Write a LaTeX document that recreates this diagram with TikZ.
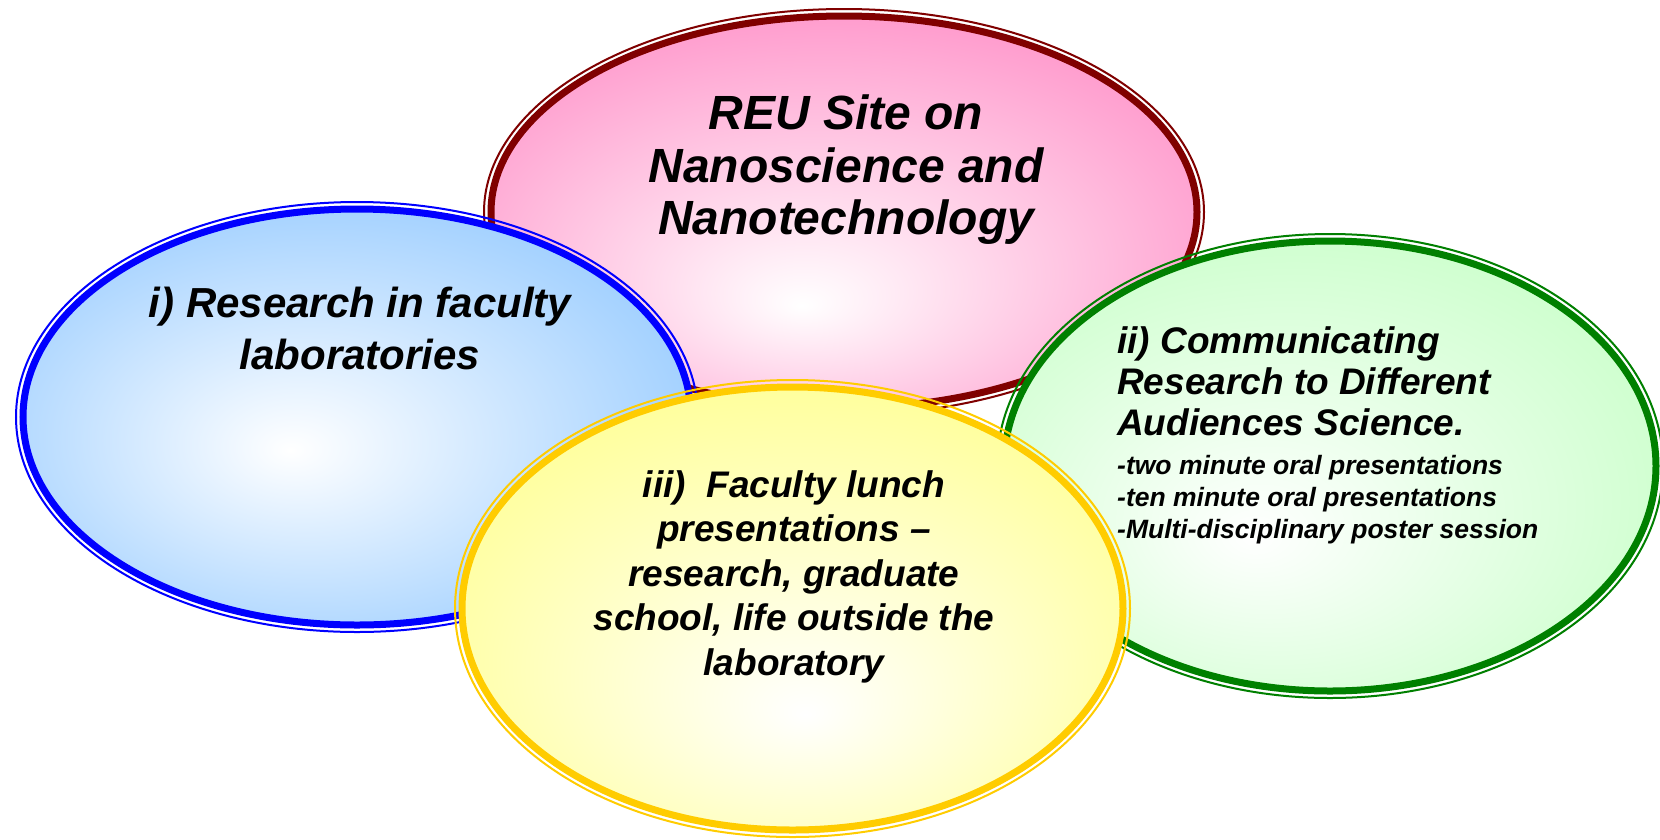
\documentclass[tikz,border=0pt]{standalone}
\usepackage{fontspec}
\setmainfont{Liberation Sans}

% fill and outline colours of the four bubbles
\definecolor{pinkfill}{RGB}{255,153,204}
\definecolor{pinkline}{RGB}{128,0,0}
\definecolor{bluefill}{RGB}{153,204,255}
\definecolor{blueline}{RGB}{0,0,255}
\definecolor{greenfill}{RGB}{204,255,204}
\definecolor{greenline}{RGB}{0,128,0}
\definecolor{yellowfill}{RGB}{255,255,153}
\definecolor{yellowline}{RGB}{255,204,0}

% glowing white spot (a little below the middle) fading out to the bubble colour
\pgfdeclareradialshading{pinkglow}{\pgfpoint{-3bp}{-12bp}}{color(0bp)=(white); color(31bp)=(pinkfill); color(50bp)=(pinkfill)}
\pgfdeclareradialshading{blueglow}{\pgfpoint{-5bp}{-4bp}}{color(0bp)=(white); color(31bp)=(bluefill); color(50bp)=(bluefill)}
\pgfdeclareradialshading{greenglow}{\pgfpoint{-6bp}{-8bp}}{color(0bp)=(white); color(31bp)=(greenfill); color(50bp)=(greenfill)}
\pgfdeclareradialshading{yellowglow}{\pgfpoint{1bp}{-12bp}}{color(0bp)=(white); color(31bp)=(yellowfill); color(50bp)=(yellowfill)}

% #1 name, #2/#3 centre, #4/#5 outer radii, #6 shading, #7 outline colour
% outline: thin outer ring, small gap, thick inner ring
\newcommand\bubble[7]{%
  \coordinate (#1) at (#2,#3);
  \shade[shading=#6] (#1) ellipse [x radius=#4-8, y radius=#5-8];
  \draw[line width=7pt, #7] (#1) ellipse [x radius=#4-8, y radius=#5-8];
  \draw[line width=2pt, #7] (#1) ellipse [x radius=#4-1, y radius=#5-1];
}

\tikzset{
  label/.style 2 args={inner sep=0pt, text=black,
    font=\fontsize{#1}{#2}\selectfont\bfseries\itshape},
}

\begin{document}
\begin{tikzpicture}[x=1pt, y=-1pt]
  \useasboundingbox (0,0) rectangle (1660,839);
  \fill[white] (0,0) rectangle (1660,839);

  % bubbles, back to front
  \bubble{reu}{844}{212}{361}{204}{pinkglow}{pinkline}
  \bubble{research}{357}{417}{342}{216}{blueglow}{blueline}
  \bubble{communicating}{1330}{466}{334}{233}{greenglow}{greenline}
  \bubble{lunch}{792.5}{608.5}{338.5}{229.5}{yellowglow}{yellowline}

  % texts
  \node[label={48}{52.5}, align=center, anchor=north] (reutext) at (846,95)
    {REU Site on\\Nanoscience and\\Nanotechnology};
  \node[label={42}{52}, align=center, anchor=north] (researchtext) at (360,287)
    {i) Research in faculty\\laboratories};
  \node[label={37}{41}, align=left, anchor=north west] (commtext) at (1117,326)
    {ii) Communicating\\Research to Different\\Audiences Science.};
  \node[label={26.5}{32}, align=left, anchor=north west] (commlist) at (1117,455)
    {-two minute oral presentations\\-ten minute oral presentations\\-Multi-disciplinary poster session};
  \node[label={37}{44.5}, align=center, anchor=north] (lunchtext) at (794,470)
    {iii)\ \ Faculty lunch\\presentations --\\research, graduate\\school, life outside the\\laboratory};
\end{tikzpicture}
\end{document}
